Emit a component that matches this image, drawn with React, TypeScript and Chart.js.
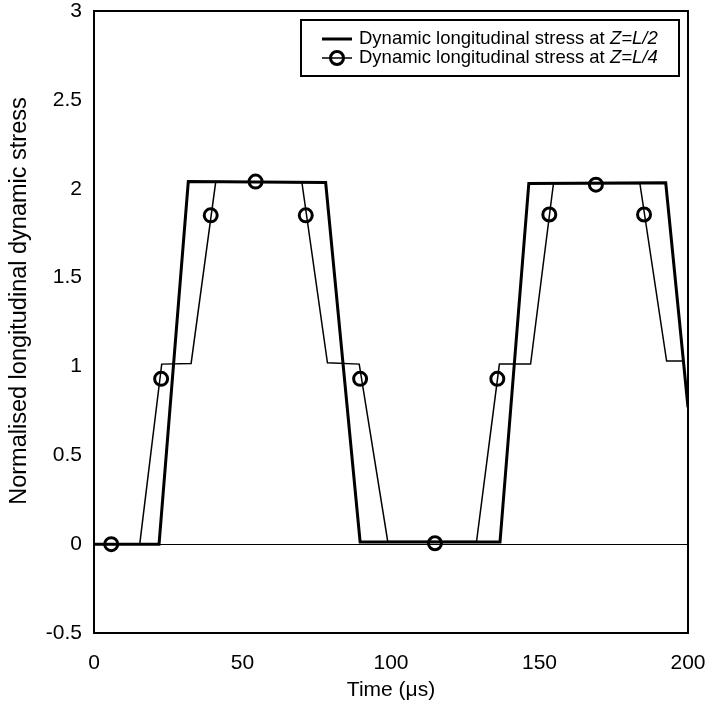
import React, { useEffect, useRef } from "react";
import { Chart, registerables } from "chart.js";

Chart.register(...registerables);

// Dynamic longitudinal stress at Z=L/2 (thick line)
const l2Time = [0, 21.9, 31.75, 78.0, 89.6, 136.7, 146.4, 192.5, 200];
const l2Stress = [0, 0, 2.04, 2.035, 0.012, 0.012, 2.03, 2.033, 0.77];

// Dynamic longitudinal stress at Z=L/4 (thin line)
const l4Time = [0, 15.4, 22.8, 32.7, 41.0, 70.0, 78.6, 89.3, 98.9, 128.8, 136.5, 147.0, 154.7, 183.8, 192.8, 198.4];
const l4Stress = [0, 0, 1.013, 1.017, 2.04, 2.035, 1.02, 1.013, 0.015, 0.015, 1.013, 1.013, 2.03, 2.03, 1.03, 1.03];

// Markers on the Z=L/4 series
const markerTime = [5.8, 22.6, 39.3, 54.4, 71.3, 89.6, 114.8, 135.8, 153.3, 169.0, 185.2];
const markerStress = [0, 0.93, 1.85, 2.04, 1.85, 0.93, 0.005, 0.93, 1.855, 2.023, 1.855];

const xTicks = [0, 50, 100, 150, 200];
const yTicks = [-0.5, 0, 0.5, 1, 1.5, 2, 2.5, 3];

const seriesNames = ["Dynamic longitudinal stress at ", "Z=L/2", "Z=L/4"];
const xTitle = "Time (μs)";
const yTitle = "Normalised longitudinal dynamic stress";

const FONT = "'Liberation Sans', Arial, sans-serif";

const pts = (xs: number[], ys: number[]) => xs.map((x, i) => ({ x, y: ys[i] }));

const decorPlugin = {
  id: "decor",
  beforeDatasetsDraw(chart: any) {
    const { ctx, chartArea, scales } = chart;
    const y0 = scales.y.getPixelForValue(0);
    ctx.save();
    ctx.strokeStyle = "#000";
    ctx.lineWidth = 1;
    ctx.beginPath();
    ctx.moveTo(chartArea.left, Math.round(y0) + 0.5);
    ctx.lineTo(chartArea.right, Math.round(y0) + 0.5);
    ctx.stroke();
    ctx.restore();
  },
  afterDraw(chart: any) {
    const { ctx, chartArea } = chart;
    ctx.save();
    // plot border
    ctx.strokeStyle = "#000";
    ctx.lineWidth = 2;
    ctx.strokeRect(chartArea.left, chartArea.top, chartArea.right - chartArea.left, chartArea.bottom - chartArea.top);

    // axis titles
    ctx.fillStyle = "#000";
    ctx.font = `21px ${FONT}`;
    ctx.textAlign = "center";
    ctx.textBaseline = "middle";
    ctx.fillText(xTitle, (chartArea.left + chartArea.right) / 2, 690);
    ctx.save();
    ctx.translate(20, 301);
    ctx.rotate(-Math.PI / 2);
    ctx.font = `23.5px ${FONT}`;
    ctx.fillText(yTitle, 0, 0);
    ctx.restore();

    // legend box
    const bx = 301, by = 20, bw = 378, bh = 56;
    ctx.fillStyle = "#fff";
    ctx.fillRect(bx, by, bw, bh);
    ctx.strokeStyle = "#000";
    ctx.lineWidth = 2;
    ctx.strokeRect(bx, by, bw, bh);

    const rows = [
      { y: 39, label: seriesNames[1], thick: true },
      { y: 58, label: seriesNames[2], thick: false },
    ];
    rows.forEach((r) => {
      ctx.strokeStyle = "#000";
      ctx.lineWidth = r.thick ? 3 : 1.5;
      ctx.beginPath();
      ctx.moveTo(322, r.y);
      ctx.lineTo(352, r.y);
      ctx.stroke();
      if (!r.thick) {
        ctx.lineWidth = 3;
        ctx.beginPath();
        ctx.arc(337, r.y, 6.5, 0, Math.PI * 2);
        ctx.stroke();
      }
      ctx.fillStyle = "#000";
      ctx.textAlign = "left";
      ctx.textBaseline = "middle";
      ctx.font = `18.5px ${FONT}`;
      ctx.fillText(seriesNames[0], 359, r.y);
      const w = ctx.measureText(seriesNames[0]).width;
      ctx.font = `italic 18.5px ${FONT}`;
      ctx.fillText(r.label, 359 + w, r.y);
    });
    ctx.restore();
  },
};

export default function App() {
  const ref = useRef<HTMLCanvasElement>(null);
  useEffect(() => {
    if (!ref.current) return;
    const chart = new Chart(ref.current, {
      type: "scatter",
      data: {
        datasets: [
          {
            label: "Z=L/2",
            data: pts(l2Time, l2Stress),
            showLine: true,
            borderColor: "#000",
            borderWidth: 3,
            pointRadius: 0,
            fill: false,
          },
          {
            label: "Z=L/4",
            data: pts(l4Time, l4Stress),
            showLine: true,
            borderColor: "#000",
            borderWidth: 1.5,
            pointRadius: 0,
            fill: false,
          },
          {
            label: "Z=L/4 markers",
            data: pts(markerTime, markerStress),
            showLine: false,
            pointRadius: 6.5,
            pointBorderWidth: 3,
            pointBorderColor: "#000",
            pointBackgroundColor: "rgba(0,0,0,0)",
          },
        ],
      },
      options: {
        responsive: false,
        animation: false,
        devicePixelRatio: 1,
        layout: { padding: { left: 0, top: 11, right: 20, bottom: 0 } },
        plugins: { legend: { display: false }, tooltip: { enabled: false } },
        scales: {
          x: {
            type: "linear",
            min: 0,
            max: 200,
            afterBuildTicks: (s: any) => {
              s.ticks = xTicks.map((v) => ({ value: v }));
            },
            afterFit: (s: any) => {
              s.height = 78;
              s.paddingLeft = 0;
              s.paddingRight = 0;
            },
            grid: { display: false, drawTicks: false },
            border: { display: false },
            ticks: {
              color: "#000",
              font: { family: FONT, size: 21 },
              padding: 18,
              maxRotation: 0,
              callback: (v: any) => String(v),
            },
          },
          y: {
            type: "linear",
            min: -0.5,
            max: 3,
            afterBuildTicks: (s: any) => {
              s.ticks = yTicks.map((v) => ({ value: v }));
            },
            afterFit: (s: any) => {
              s.width = 94;
              s.paddingTop = 0;
              s.paddingBottom = 0;
            },
            grid: { display: false, drawTicks: false },
            border: { display: false },
            ticks: {
              color: "#000",
              font: { family: FONT, size: 21 },
              padding: 12,
              callback: (v: any) => String(v),
            },
          },
        },
      },
      plugins: [decorPlugin],
    });
    return () => chart.destroy();
  }, []);
  return (
    <div style={{ position: "absolute", left: 0, top: 0, width: 708, height: 711, background: "#fff" }}>
      <canvas ref={ref} width={708} height={711} />
    </div>
  );
}
